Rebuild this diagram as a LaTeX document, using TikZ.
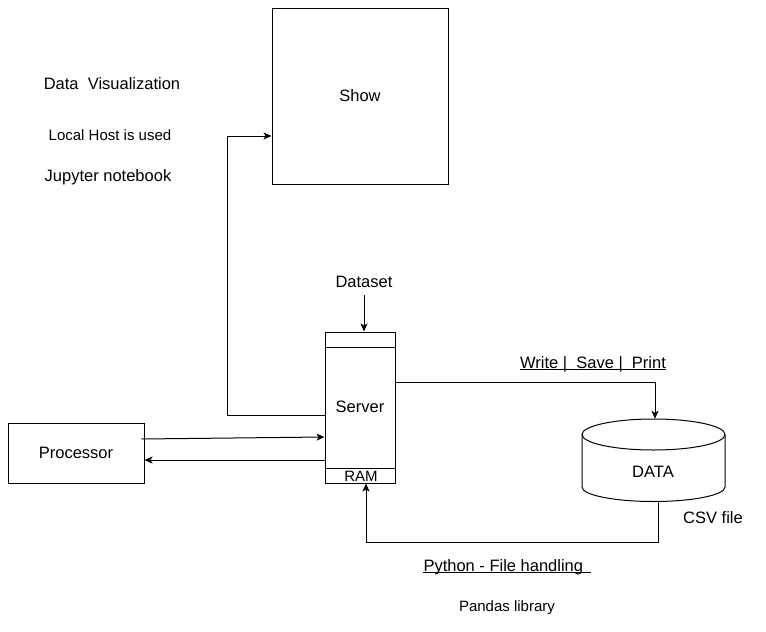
\documentclass[tikz,border=0pt]{standalone}
\usepackage{fontspec}
\setmainfont{Liberation Sans}
\usetikzlibrary{arrows.meta,calc}
\begin{document}
\begin{tikzpicture}[x=1pt,y=-1pt,
  box/.style={draw,line width=1pt,inner sep=0pt},
  lbl/.style={inner sep=0pt,font=\fontsize{16.5}{20}\selectfont},
  small/.style={inner sep=0pt,font=\fontsize{15}{18}\selectfont},
  conn/.style={line width=1pt},
  uline/.style={line width=0.9pt},
  arr/.style={line width=1pt,-{Stealth[length=8pt,width=7pt,inset=2pt]}}]
\useasboundingbox (0,0) rectangle (766,632);
% boxes
\node[box,minimum width=176pt,minimum height=176pt] (show) at (360,96) {};
\node[lbl] (showtxt) at (360,96) {Show};
\node[box,minimum width=70pt,minimum height=151pt] (server) at (360,407.5) {};
\node[lbl] (servertxt) at (360,407) {Server};
\draw[conn] (server.west |- 0,347) -- (server.east |- 0,347);
\draw[conn] (server.west |- 0,468) -- (server.east |- 0,468);
\node[small] (ram) at (361,476) {RAM};
\node[box,minimum width=136pt,minimum height=60pt] (proc) at (76,453) {};
\node[lbl] (proctxt) at (76,453) {Processor};
% cylinder
\node[inner sep=0pt,minimum width=143pt,minimum height=83pt] (data) at (653.5,460.5) {};
\draw[conn] (582,434.5) -- (582,487) arc[start angle=180,end angle=360,x radius=71.5pt,y radius=14.5pt] -- (725,434.5);
\draw[conn] (653.5,434.5) ellipse[x radius=71.5pt,y radius=15.5pt];
\node[lbl] (datatxt) at (653,472) {DATA};
% texts
\node[lbl] (dataset) at (364,282) {Dataset};
\node[lbl] (dv) at (112,84) {Data\ \ Visualization};
\node[small] (lh) at (110,135) {Local Host is used};
\node[lbl] (jn) at (108,177) {Jupyter notebook};
\node[lbl,anchor=base] (wsp) at (593,368) {Write |\ \ Save |\ \ Print};
\draw[uline] ([yshift=-1.5pt]wsp.base west) -- ([yshift=-1.5pt]wsp.base east);
\node[lbl] (csv) at (713,518) {CSV file};
\node[lbl,anchor=base] (py) at (507,571) {Python - File handling\ \,};
\draw[uline] ([yshift=-1.8pt]py.base west) -- ([yshift=-1.8pt]py.base east);
\node[small] (pd) at (507,608) {Pandas library};
% connectors
\draw[arr,shorten <=7pt] (dataset.south) -- (dataset.south |- server.north);
\coordinate (c1) at (227,415);
\draw[arr] (server.west |- c1) -- (c1) |- (show.west |- 0,136);
\draw[arr] ([xshift=-3pt]proc.east |- 0,439) -- (server.west |- 0,437);
\draw[arr] (server.west |- 0,460) -- (proc.east |- 0,460);
\draw[arr] (server.east |- 0,382) -| ([xshift=1.5pt]data.north);
\coordinate (c2) at (658,542);
\draw[arr] ([xshift=4.5pt]data.south) -- (c2) -| ([xshift=6pt]server.south);
\end{tikzpicture}
\end{document}
